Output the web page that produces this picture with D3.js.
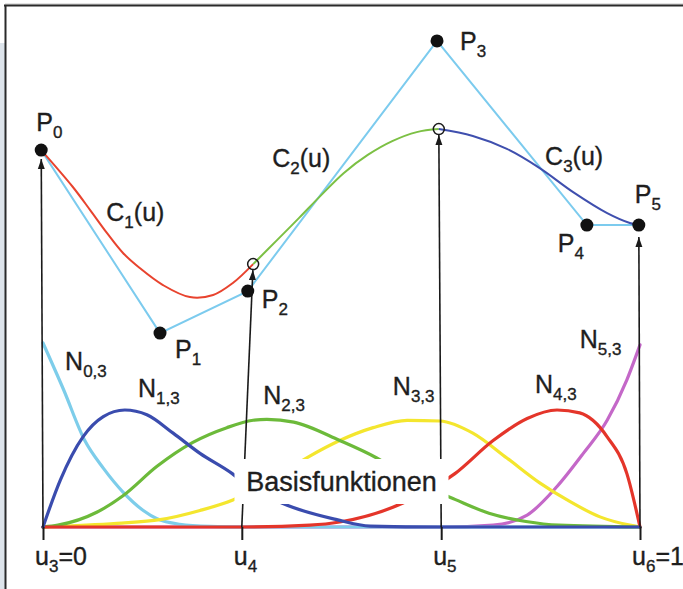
<!DOCTYPE html>
<html>
<head>
<meta charset="utf-8">
<script src="https://cdn.jsdelivr.net/npm/d3@7"></script>
<style>
  html, body { margin: 0; padding: 0; background: #fff; }
  svg { display: block; }
  text { font-family: "Liberation Sans", Arial, sans-serif; fill: #1e1e1e; stroke: #1e1e1e; stroke-width: 0.35px; }
</style>
</head>
<body>
<svg id="chart" width="683" height="589"></svg>
<script>
// knots of the parameter axis (u3..u6)
const knots = [0, 0.333, 0.667, 1];
const knotSubs = ["3", "4", "5", "6"];
const knotRest = ["=0", "", "", "=1"];

// control polygon P0..P5 (u position, height in the curve plane)
const ctrlNames = ["0", "1", "2", "3", "4", "5"];
const ctrlU = [-0.003, 0.196, 0.343, 0.660, 0.911, 0.998];
const ctrlV = [0.633, 0.023, 0.163, 0.997, 0.383, 0.383];

// curve segments: [u, height]
const c1 = [[-0.003, 0.633], [0.050, 0.510], [0.079, 0.433], [0.107, 0.357], [0.134, 0.290],
  [0.162, 0.240], [0.201, 0.183], [0.246, 0.143], [0.285, 0.150], [0.318, 0.190], [0.352, 0.253]];
const c2 = [[0.352, 0.253], [0.392, 0.333], [0.429, 0.407], [0.466, 0.483], [0.504, 0.557],
  [0.544, 0.617], [0.585, 0.663], [0.626, 0.693], [0.663, 0.703]];
const c3 = [[0.663, 0.703], [0.720, 0.680], [0.777, 0.637], [0.832, 0.573], [0.888, 0.493],
  [0.945, 0.423], [0.983, 0.390], [0.998, 0.383]];

// curve points at the inner knots (open circles)
const joints = [[0.352, 0.253], [0.663, 0.703]];

// basis functions N_i,3 : [u, value]
const n0 = [[0, 1.0], [0.034, 0.75], [0.070, 0.47], [0.101, 0.32], [0.134, 0.19], [0.168, 0.09],
  [0.191, 0.045], [0.229, 0.015], [0.28, 0.003], [0.333, 0], [1, 0]];
const n1 = [[0, 0], [0.029, 0.255], [0.067, 0.49], [0.101, 0.60], [0.137, 0.636], [0.174, 0.61],
  [0.218, 0.51], [0.263, 0.40], [0.317, 0.29], [0.333, 0.25], [0.400, 0.13], [0.492, 0.04],
  [0.548, 0.005], [0.667, 0], [1, 0]];
const n2 = [[0, 0], [0.025, 0.01], [0.090, 0.08], [0.134, 0.17], [0.191, 0.33], [0.251, 0.46],
  [0.308, 0.54], [0.352, 0.58], [0.375, 0.585], [0.42, 0.57], [0.497, 0.47], [0.559, 0.375],
  [0.62, 0.25], [0.690, 0.15], [0.747, 0.075], [0.809, 0.03], [0.864, 0.01], [1, 0]];
const n3 = [[0, 0], [0.124, 0.02], [0.196, 0.04], [0.263, 0.09], [0.318, 0.147], [0.38, 0.25],
  [0.444, 0.38], [0.497, 0.47], [0.553, 0.54], [0.610, 0.58], [0.665, 0.576], [0.720, 0.51],
  [0.777, 0.375], [0.832, 0.24], [0.878, 0.147], [0.933, 0.055], [0.983, 0.01], [1, 0]];
const n4 = [[0, 0], [0.333, 0], [0.447, 0.01], [0.497, 0.027], [0.603, 0.13], [0.690, 0.29],
  [0.754, 0.47], [0.811, 0.59], [0.861, 0.636], [0.899, 0.62], [0.945, 0.49], [0.978, 0.29], [1, 0]];
const n5 = [[0, 0], [0.667, 0], [0.754, 0.01], [0.811, 0.065], [0.861, 0.22], [0.905, 0.40],
  [0.945, 0.58], [0.978, 0.80], [1, 0.99]];

// label anchors
const basisLabelPos = [[0.037, 0.853], [0.159, 0.707], [0.369, 0.668], [0.586, 0.717], [0.824, 0.728], [0.899, 0.973]];
const curveLabelPos = [[0.106, 0.397], [0.384, 0.577], [0.841, 0.583]];

const svg = d3.select("#chart");
const W = 683, H = 589;

const x = d3.scaleLinear().domain([0, 1]).range([43, 640]);
const yN = d3.scaleLinear().domain([0, 1]).range([527, 343]);
const yC = d3.scaleLinear().domain([0, 1]).range([340, 40]);

const mainSize = 25, subSize = 17, subShift = 7;

// page frame
svg.append("rect").attr("x", 0).attr("y", 43).attr("width", 5).attr("height", H - 43).attr("fill", "#dde4eb");
svg.append("line").attr("x1", 5).attr("x2", W).attr("y1", 4).attr("y2", 4)
  .attr("stroke", "#c4c4c4").attr("stroke-width", 1);
svg.append("line").attr("x1", 4).attr("x2", W).attr("y1", 5.5).attr("y2", 5.5)
  .attr("stroke", "#2a2a2a").attr("stroke-width", 2);
svg.append("line").attr("x1", 5.5).attr("x2", 5.5).attr("y1", 5).attr("y2", H)
  .attr("stroke", "#2a2a2a").attr("stroke-width", 2);

svg.append("defs").append("marker")
  .attr("id", "arrow")
  .attr("viewBox", "0 -4 10 8")
  .attr("refX", 10).attr("refY", 0)
  .attr("markerWidth", 10).attr("markerHeight", 8)
  .attr("markerUnits", "userSpaceOnUse")
  .attr("orient", "auto")
  .append("path").attr("d", "M0,-3.5L10,0L0,3.5Z").attr("fill", "#1a1a1a");

// basis functions
const basisLine = d3.line().x(d => x(d[0])).y(d => yN(d[1])).curve(d3.curveMonotoneX);
const basis = [
  { data: n5, color: "#c468c8" },
  { data: n0, color: "#7dcdea" },
  { data: n3, color: "#f4e62e" },
  { data: n2, color: "#6cba3a" },
  { data: n4, color: "#e4352a" },
  { data: n1, color: "#3a4cae" }
];
svg.append("g").selectAll("path")
  .data(basis)
  .join("path")
  .attr("d", d => basisLine(d.data))
  .attr("fill", "none")
  .attr("stroke", d => d.color)
  .attr("stroke-width", 3.2)
  .attr("stroke-linecap", "round");

// knot ticks
const axis = d3.axisBottom(x).tickValues(knots).tickSize(13).tickFormat("");
const axisG = svg.append("g").attr("transform", `translate(0,${yN(0)})`).call(axis);
axisG.select(".domain").remove();
axisG.selectAll(".tick line").attr("stroke", "#1a1a1a").attr("stroke-width", 2);

// control polygon
const polyLine = d3.line().x((d, i) => x(ctrlU[i])).y((d, i) => yC(ctrlV[i]));
svg.append("path")
  .attr("d", polyLine(ctrlNames))
  .attr("fill", "none")
  .attr("stroke", "#7ccbee")
  .attr("stroke-width", 2);

// curve segments
const curveLine = d3.line().x(d => x(d[0])).y(d => yC(d[1])).curve(d3.curveCatmullRom.alpha(0.5));
const segs = [
  { data: c1, color: "#e8432e" },
  { data: c2, color: "#7cc044" },
  { data: c3, color: "#3f4fae" }
];
svg.append("g").selectAll("path")
  .data(segs)
  .join("path")
  .attr("d", d => curveLine(d.data))
  .attr("fill", "none")
  .attr("stroke", d => d.color)
  .attr("stroke-width", 2);

// arrows from the knots up to the curve
const arrowTargets = [
  { u: knots[0], tu: ctrlU[0], tv: ctrlV[0], gap: 9 },
  { u: knots[1], tu: joints[0][0], tv: joints[0][1], gap: 6 },
  { u: knots[2], tu: joints[1][0], tv: joints[1][1], gap: 6 },
  { u: knots[3], tu: ctrlU[5], tv: ctrlV[5], gap: 12 }
];
svg.append("g").selectAll("line")
  .data(arrowTargets)
  .join("line")
  .each(function (d) {
    const x1 = x(d.u), y1 = yN(0);
    const x2 = x(d.tu), y2 = yC(d.tv);
    const len = Math.hypot(x2 - x1, y2 - y1);
    const k = (len - d.gap) / len;
    d3.select(this)
      .attr("x1", x1).attr("y1", y1)
      .attr("x2", x1 + (x2 - x1) * k).attr("y2", y1 + (y2 - y1) * k);
  })
  .attr("stroke", "#1a1a1a")
  .attr("stroke-width", 1.6)
  .attr("marker-end", "url(#arrow)");

// label box over the basis functions
svg.append("rect")
  .attr("x", x(0.5) - 107).attr("y", 459)
  .attr("width", 214).attr("height", 45)
  .attr("fill", "#fff");
svg.append("text")
  .attr("x", x(0.5)).attr("y", 491)
  .attr("text-anchor", "middle")
  .style("font-size", "27px")
  .text("Basisfunktionen");

// control points and joints
svg.append("g").selectAll("circle")
  .data(ctrlNames)
  .join("circle")
  .attr("cx", (d, i) => x(ctrlU[i]))
  .attr("cy", (d, i) => yC(ctrlV[i]))
  .attr("r", 6.5)
  .attr("fill", "#111");

svg.append("g").selectAll("circle")
  .data(joints)
  .join("circle")
  .attr("cx", d => x(d[0]))
  .attr("cy", d => yC(d[1]))
  .attr("r", 5.5)
  .attr("fill", "none")
  .attr("stroke", "#1a1a1a")
  .attr("stroke-width", 1.5);

function addLabel(px, py, main, sub, rest) {
  const t = svg.append("text").attr("x", px).attr("y", py).style("font-size", mainSize + "px");
  t.append("tspan").text(main);
  t.append("tspan").attr("dy", subShift).style("font-size", subSize + "px").text(sub);
  if (rest) t.append("tspan").attr("dy", -subShift).text(rest);
}

// P labels, offsets from each point
const ctrlLabelOffsets = [[-5, -19], [15, 25], [14, 17], [23, 9], [-29, 27], [-4, -22]];
ctrlNames.forEach((n, i) => {
  addLabel(x(ctrlU[i]) + ctrlLabelOffsets[i][0], yC(ctrlV[i]) + ctrlLabelOffsets[i][1], "P", n, "");
});

curveLabelPos.forEach((p, i) => addLabel(x(p[0]), yC(p[1]), "C", String(i + 1), "(u)"));

basisLabelPos.forEach((p, i) => addLabel(x(p[0]), yN(p[1]), "N", i + ",3", ""));

knots.forEach((k, i) => addLabel(x(k) - 8, 565, "u", knotSubs[i], knotRest[i]));
</script>
</body>
</html>
